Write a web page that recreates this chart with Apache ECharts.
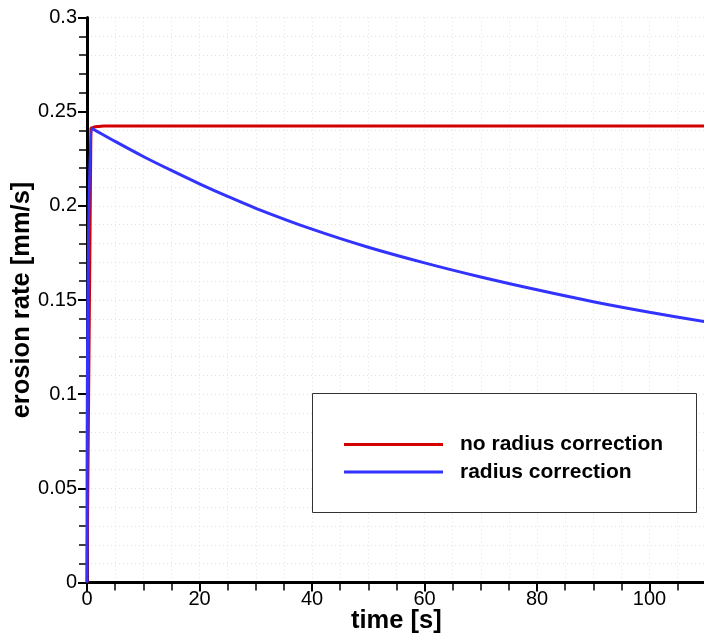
<!DOCTYPE html>
<html>
<head>
<meta charset="utf-8">
<script src="https://cdn.jsdelivr.net/npm/echarts@6/dist/echarts.min.js"></script>
<style>
  html, body { margin: 0; padding: 0; background: #fff; }
  #chart { width: 704px; height: 641px; }
</style>
</head>
<body>
<div id="chart"></div>
<script>
// Erosion rate over time, with and without radius correction
const seriesNames = ['no radius correction', 'radius correction'];

// time [s]
const timeNoCorr = [0, 0.7, 1.5, 3, 110];
const rateNoCorr = [0, 0.2412, 0.2420, 0.2424, 0.2424];

const timeCorr = [0, 0.8, 5, 10, 15, 20, 25, 30, 40, 50, 60, 70, 80, 90, 100, 110];
const rateCorr = [0, 0.2412, 0.2342, 0.2262, 0.2188, 0.2117, 0.2050, 0.1987, 0.1876, 0.1780, 0.1697, 0.1622, 0.1554, 0.1491, 0.1435, 0.1384];

const xTicks = [0, 20, 40, 60, 80, 100];
const yTicks = [0, 0.05, 0.1, 0.15, 0.2, 0.25, 0.3];

const FONT = '"Liberation Sans", Arial, sans-serif';
const pair = (xs, ys) => xs.map((x, i) => [x, ys[i]]);

const gridLine = { show: true, lineStyle: { color: '#e2e2e2', width: 1, type: [1, 3] } };

const chart = echarts.init(document.getElementById('chart'), null, { renderer: 'canvas' });
chart.setOption({
  animation: false,
  backgroundColor: '#ffffff',
  grid: { left: 87, top: 17.5, right: -1.75, bottom: 58.5, containLabel: false, outerBoundsMode: 'none' },
  graphic: [{
    type: 'rect',
    left: 312, top: 393,
    shape: { width: 384, height: 119 },
    style: { fill: '#ffffff', stroke: '#333333', lineWidth: 1 },
    z: 5
  }],
  legend: {
    orient: 'vertical',
    left: 344, top: 434,
    padding: 0,
    itemWidth: 99, itemHeight: 3,
    itemGap: 6.4,
    icon: 'rect',
    z: 6,
    textStyle: { fontFamily: FONT, fontWeight: 'bold', fontSize: 21, lineHeight: 20, color: '#000', padding: [0, 0, 0, 12] },
    data: seriesNames
  },
  xAxis: {
    type: 'value',
    min: 0, max: 110, interval: 20,
    name: 'time [s]',
    nameLocation: 'middle',
    nameMoveOverlap: false,
    nameGap: 25.5,
    nameTextStyle: { fontFamily: FONT, fontWeight: 'bold', fontSize: 25.5, color: '#000', verticalAlign: 'top' },
    axisLine: { show: true, onZero: false, lineStyle: { color: '#000', width: 3 } },
    axisTick: { show: true, inside: false, length: 9, lineStyle: { color: '#000', width: 2 } },
    minorTick: { show: true, splitNumber: 4, length: 8, lineStyle: { color: '#000', width: 1.5 } },
    axisLabel: {
      fontFamily: FONT, fontSize: 20, color: '#000', margin: 7,
      showMaxLabel: false,
      formatter: v => (xTicks.includes(v) ? String(v) : '')
    },
    splitLine: gridLine,
    minorSplitLine: gridLine
  },
  yAxis: {
    type: 'value',
    min: 0, max: 0.3, interval: 0.05,
    name: 'erosion rate [mm/s]',
    nameLocation: 'middle',
    nameMoveOverlap: false,
    nameGap: 52,
    nameTextStyle: { fontFamily: FONT, fontWeight: 'bold', fontSize: 25.5, color: '#000' },
    axisLine: { show: true, onZero: false, lineStyle: { color: '#000', width: 3 } },
    axisTick: { show: true, inside: false, length: 9, lineStyle: { color: '#000', width: 2 } },
    minorTick: { show: true, splitNumber: 5, length: 8, lineStyle: { color: '#000', width: 1.5 } },
    axisLabel: {
      fontFamily: FONT, fontSize: 20, color: '#000', margin: 10,
      formatter: v => {
        const t = yTicks.find(k => Math.abs(k - v) < 1e-9);
        return t === undefined ? '' : String(+t.toFixed(2));
      }
    },
    splitLine: gridLine,
    minorSplitLine: gridLine
  },
  series: [
    {
      name: seriesNames[0],
      type: 'line',
      data: pair(timeNoCorr, rateNoCorr),
      showSymbol: false,
      color: '#d40000',
      lineStyle: { color: '#d40000', width: 3 },
      z: 3
    },
    {
      name: seriesNames[1],
      type: 'line',
      data: pair(timeCorr, rateCorr),
      smooth: 0.3,
      showSymbol: false,
      color: '#3333ff',
      lineStyle: { color: '#3333ff', width: 3 },
      z: 4
    }
  ]
});
</script>
</body>
</html>
